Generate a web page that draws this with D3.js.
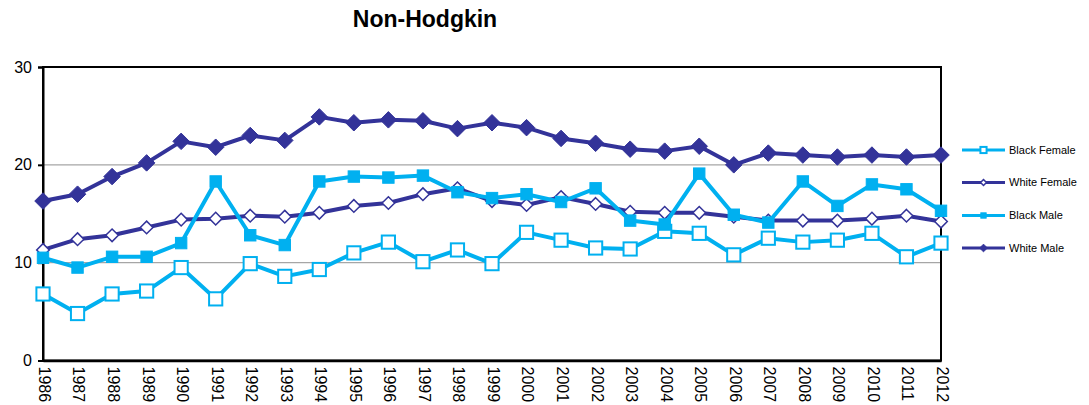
<!DOCTYPE html>
<html>
<head>
<meta charset="utf-8">
<script src="https://cdn.jsdelivr.net/npm/d3@7"></script>
<style>
    body { margin: 0; background: #fff; }
    svg { font-family: "Liberation Sans", Arial, sans-serif; }
</style>
</head>
<body>
<svg id="chart" width="1089" height="405"></svg>
<script>
// data
const years = [1986, 1987, 1988, 1989, 1990, 1991, 1992, 1993, 1994, 1995, 1996, 1997, 1998,
    1999, 2000, 2001, 2002, 2003, 2004, 2005, 2006, 2007, 2008, 2009, 2010, 2011, 2012];
const blackFemale = [6.8, 4.8, 6.8, 7.1, 9.5, 6.3, 9.9, 8.6, 9.3, 11.0, 12.1, 10.1, 11.3,
    9.9, 13.1, 12.3, 11.5, 11.4, 13.2, 13.0, 10.8, 12.5, 12.1, 12.3, 13.0, 10.6, 12.0];
const whiteFemale = [11.3, 12.4, 12.8, 13.6, 14.4, 14.5, 14.8, 14.7, 15.1, 15.8, 16.1, 17.0, 17.6,
    16.3, 15.9, 16.7, 16.0, 15.2, 15.1, 15.1, 14.7, 14.3, 14.3, 14.3, 14.5, 14.8, 14.2];
const blackMale = [10.5, 9.5, 10.6, 10.6, 12.0, 18.3, 12.8, 11.8, 18.3, 18.8, 18.7, 18.9, 17.2,
    16.6, 17.0, 16.2, 17.6, 14.3, 13.9, 19.1, 14.9, 14.1, 18.3, 15.8, 18.0, 17.5, 15.3];
const whiteMale = [16.3, 17.0, 18.8, 20.2, 22.4, 21.8, 23.0, 22.5, 24.9, 24.3, 24.6, 24.5, 23.7,
    24.3, 23.8, 22.7, 22.2, 21.6, 21.4, 21.9, 20.0, 21.2, 21.0, 20.8, 21.0, 20.8, 21.0];
const yTicks = [0, 10, 20, 30];

const cyan = "#00b0f0";
const navy = "#333399";

const series = [
    {name: "Black Female", values: blackFemale, color: cyan, shape: "square", filled: false},
    {name: "White Female", values: whiteFemale, color: navy, shape: "diamond", filled: false},
    {name: "Black Male", values: blackMale, color: cyan, shape: "square", filled: true},
    {name: "White Male", values: whiteMale, color: navy, shape: "diamond", filled: true}
];

const svg = d3.select("#chart");
const plotLeft = 43, plotRight = 941, plotTop = 67, plotBottom = 360.5;

const x = d3.scalePoint().domain(years).range([plotLeft, plotRight]);
const y = d3.scaleLinear().domain([0, 30]).range([plotBottom, plotTop]);

// title
svg.append("text")
    .attr("x", 425)
    .attr("y", 27)
    .attr("text-anchor", "middle")
    .style("font-size", "23px")
    .style("font-weight", "bold")
    .text("Non-Hodgkin");

// gridlines
svg.append("g")
    .selectAll("line")
    .data([10, 20])
    .enter()
    .append("line")
    .attr("x1", plotLeft)
    .attr("x2", plotRight)
    .attr("y1", d => y(d))
    .attr("y2", d => y(d))
    .style("stroke", "#a6a6a6")
    .style("stroke-width", 1.2);

// plot box
svg.append("rect")
    .attr("x", plotLeft)
    .attr("y", plotTop)
    .attr("width", plotRight - plotLeft)
    .attr("height", plotBottom - plotTop)
    .attr("fill", "none")
    .attr("stroke", "black")
    .attr("stroke-width", 2);

// y axis
const yAxis = svg.append("g")
    .attr("transform", `translate(${plotLeft},0)`)
    .call(d3.axisLeft(y).tickValues(yTicks).tickSize(5).tickFormat(d3.format("d")));
yAxis.select(".domain").attr("stroke-width", 2);
yAxis.selectAll("line").attr("stroke-width", 2);
yAxis.selectAll("text")
    .style("font-size", "16px")
    .attr("fill", "black")
    .attr("x", -11);

// x axis, labels only (no tick marks in the original)
const xAxis = svg.append("g")
    .attr("transform", `translate(0,${plotBottom})`)
    .call(d3.axisBottom(x).tickSize(0));
xAxis.select(".domain").attr("stroke-width", 2.5);
xAxis.selectAll("text")
    .style("font-size", "16px")
    .attr("fill", "black")
    .attr("text-anchor", "start")
    .attr("transform", "rotate(90)")
    .attr("x", 6)
    .attr("y", -1)
    .attr("dy", "0.35em");

// marker drawing
function marker(sel, s, size) {
    if (s.shape === "square") {
        const h = s.filled ? size * 0.38 : size * 0.44;
        sel.append("rect")
            .attr("x", -h).attr("y", -h)
            .attr("width", 2 * h).attr("height", 2 * h)
            .attr("fill", s.filled ? s.color : "white")
            .attr("stroke", s.color)
            .attr("stroke-width", s.filled ? 1 : 2);
    } else {
        const h = s.filled ? size * 0.55 : size * 0.42;
        sel.append("path")
            .attr("d", `M0,${-h}L${h},0L0,${h}L${-h},0Z`)
            .attr("fill", s.filled ? s.color : "white")
            .attr("stroke", s.color)
            .attr("stroke-width", s.filled ? 1 : 1.5);
    }
}

const line = d3.line().x((d, i) => x(years[i])).y(d => y(d));

series.forEach(s => {
    const g = svg.append("g");
    g.append("path")
        .datum(s.values)
        .attr("d", line)
        .attr("fill", "none")
        .attr("stroke", s.color)
        .attr("stroke-width", 4)
        .attr("stroke-linejoin", "round");
    g.selectAll("g.pt")
        .data(s.values)
        .enter()
        .append("g")
        .attr("class", "pt")
        .attr("transform", (d, i) => `translate(${x(years[i])},${y(d)})`)
        .each(function () { marker(d3.select(this), s, 15); });
});

// legend
const legendY = [150, 182.5, 215.5, 248];
series.forEach((s, i) => {
    const g = svg.append("g").attr("transform", `translate(962,${legendY[i]})`);
    g.append("line")
        .attr("x1", 0).attr("x2", 43)
        .attr("stroke", s.color)
        .attr("stroke-width", 3);
    const m = g.append("g").attr("transform", "translate(21.5,0)");
    marker(m, s, 7);
    g.append("text")
        .attr("x", 47)
        .attr("dy", "0.35em")
        .style("font-size", "11px")
        .text(s.name);
});
</script>
</body>
</html>
